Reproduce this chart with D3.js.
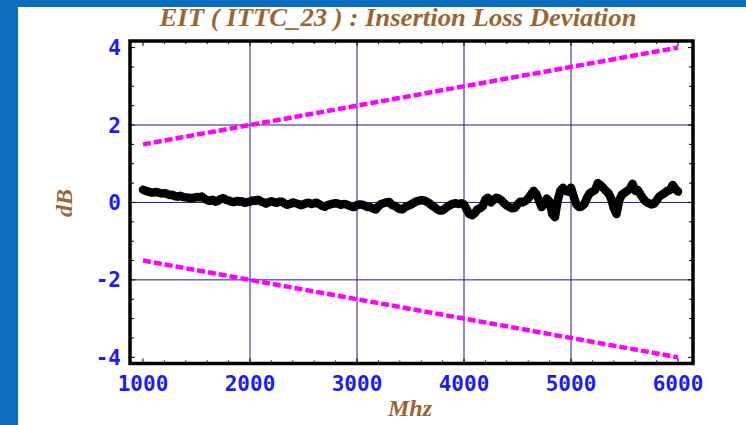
<!DOCTYPE html>
<html>
<head>
<meta charset="utf-8">
<script src="https://cdn.jsdelivr.net/npm/d3@7"></script>
<style>
  html, body { margin: 0; padding: 0; background: #0a6dbd; }
  svg { display: block; }
</style>
</head>
<body>
<svg id="chart" width="746" height="425"></svg>
<script>
// Measured insertion loss deviation (dB), every 25 MHz from 1000 to 6000
const freqStart = 1000;
const freqStep = 25;
const deviation = [
  0.33, 0.30, 0.28, 0.26, 0.26, 0.27, 0.25, 0.23,
  0.24, 0.22, 0.19, 0.20, 0.16, 0.15, 0.17, 0.14,
  0.13, 0.12, 0.11, 0.12, 0.14, 0.13, 0.15, 0.10,
  0.06, 0.04, 0.07, 0.02, 0.04, 0.09, 0.11, 0.07,
  0.05, 0.02, 0.01, 0.04, 0.02, 0.03, -0.01, 0.01,
  0.02, 0.05, 0.04, 0.07, 0.03, 0.00, -0.03, 0.01,
  0.03, 0.01, -0.01, 0.02, 0.02, -0.03, -0.06, -0.04,
  0.00, -0.02, -0.04, -0.07, -0.05, -0.02, -0.01, -0.04,
  -0.02, -0.01, -0.05, -0.09, -0.11, -0.07, -0.05, -0.03,
  -0.02, -0.03, -0.06, -0.04, -0.05, -0.08, -0.11, -0.12,
  -0.07, -0.05, -0.06, -0.09, -0.12, -0.12, -0.16, -0.18,
  -0.10, -0.04, -0.02, 0.00, 0.01, -0.06, -0.09, -0.13,
  -0.17, -0.18, -0.12, -0.09, -0.06, -0.02, 0.02, 0.04,
  0.06, 0.05, 0.02, -0.02, -0.08, -0.12, -0.18, -0.21,
  -0.20, -0.15, -0.10, -0.06, -0.03, -0.02, -0.04, -0.02,
  -0.05, -0.18, -0.30, -0.33, -0.28, -0.18, -0.15, -0.10,
  0.08, 0.12, 0.00, 0.06, 0.12, 0.10, 0.05, -0.02,
  -0.08, -0.12, -0.15, -0.14, -0.05, 0.02, 0.00, 0.04,
  0.10, 0.20, 0.30, 0.22, 0.05, -0.12, -0.05, 0.10,
  0.02, -0.30, -0.38, 0.05, 0.30, 0.38, 0.30, 0.28,
  0.38, 0.15, -0.05, -0.12, -0.10, -0.04, 0.12, 0.24,
  0.28, 0.32, 0.50, 0.45, 0.38, 0.30, 0.24, 0.10,
  -0.15, -0.30, 0.05, 0.20, 0.25, 0.30, 0.35, 0.48,
  0.30, 0.32, 0.20, 0.10, 0.02, -0.02, -0.05, -0.03,
  0.05, 0.15, 0.20, 0.24, 0.30, 0.32, 0.45, 0.35,
  0.28
];

// Limit lines (dashed magenta)
const limitFreq = [1000, 6000];
const upperLimit = [1.5, 4.0];
const lowerLimit = [-1.5, -4.0];

const xTicks = [1000, 2000, 3000, 4000, 5000, 6000];
const yTicks = [-4, -2, 0, 2, 4];
const xGrid = [2000, 3000, 4000, 5000];
const yGrid = [-2, 0, 2];

const TITLE_COLOR = '#996633';
const TICK_COLOR = '#1a1aff';
const GRID_COLOR = '#1c1c8c';
const LIMIT_COLOR = '#ff00ff';

const svg = d3.select('#chart');

// white panel inside the blue border
svg.append('rect')
  .attr('x', 18).attr('y', 7)
  .attr('width', 746 - 18).attr('height', 425 - 7)
  .attr('fill', '#fff');

const plot = { left: 130, right: 693, top: 41, bottom: 363.5 };

const x = d3.scaleLinear().domain([878.5, 6140]).range([plot.left, plot.right]);
const y = d3.scaleLinear().domain([-4.16, 4.17]).range([plot.bottom, plot.top]);

svg.append('defs').append('clipPath').attr('id', 'clip')
  .append('rect')
  .attr('x', plot.left).attr('y', plot.top)
  .attr('width', plot.right - plot.left).attr('height', plot.bottom - plot.top);

// grid
const grid = svg.append('g');
grid.selectAll('line.gx').data(xGrid).join('line')
  .attr('class', 'gx')
  .attr('x1', (d) => x(d)).attr('x2', (d) => x(d))
  .attr('y1', plot.top).attr('y2', plot.bottom)
  .attr('stroke', GRID_COLOR).attr('stroke-width', 1);
grid.selectAll('line.gy').data(yGrid).join('line')
  .attr('class', 'gy')
  .attr('x1', plot.left).attr('x2', plot.right)
  .attr('y1', (d) => y(d)).attr('y2', (d) => y(d))
  .attr('stroke', GRID_COLOR).attr('stroke-width', 1);

const marks = svg.append('g').attr('clip-path', 'url(#clip)');

const line = d3.line().x((d) => x(d[0])).y((d) => y(d[1]));

[upperLimit, lowerLimit].forEach((lim) => {
  marks.append('path')
    .datum(limitFreq.map((f, i) => [f, lim[i]]))
    .attr('d', line)
    .attr('fill', 'none')
    .attr('stroke', LIMIT_COLOR)
    .attr('stroke-width', 4.5)
    .attr('stroke-dasharray', '8,3');
});

const pts = deviation.map((v, i) => [freqStart + i * freqStep, v]);
marks.append('path')
  .datum(pts)
  .attr('d', line)
  .attr('fill', 'none')
  .attr('stroke', '#000')
  .attr('stroke-width', 8.5)
  .attr('stroke-linejoin', 'round')
  .attr('stroke-linecap', 'round');

// inward ticks on all four sides
const ticks = svg.append('g').attr('stroke', '#000').attr('stroke-width', 1);
const xMinor = d3.range(1000, 6001, 200);
const yMinor = d3.range(-4, 4.01, 0.5);
xMinor.forEach((f) => {
  const len = f % 1000 === 0 ? 5 : 3;
  ticks.append('line').attr('x1', x(f)).attr('x2', x(f))
    .attr('y1', plot.bottom).attr('y2', plot.bottom - len);
  ticks.append('line').attr('x1', x(f)).attr('x2', x(f))
    .attr('y1', plot.top).attr('y2', plot.top + len);
});
yMinor.forEach((v) => {
  const len = v % 2 === 0 ? 5 : 4;
  ticks.append('line').attr('y1', y(v)).attr('y2', y(v))
    .attr('x1', plot.left).attr('x2', plot.left + len);
  ticks.append('line').attr('y1', y(v)).attr('y2', y(v))
    .attr('x1', plot.right).attr('x2', plot.right - len);
});

// frame
svg.append('rect')
  .attr('x', plot.left).attr('y', plot.top)
  .attr('width', plot.right - plot.left).attr('height', plot.bottom - plot.top)
  .attr('fill', 'none').attr('stroke', '#000').attr('stroke-width', 3.5);

// tick labels
const labelFont = '"DejaVu Sans Mono", monospace';
svg.append('g').selectAll('text').data(xTicks).join('text')
  .attr('x', (d) => x(d)).attr('y', 391)
  .attr('text-anchor', 'middle')
  .attr('font-family', labelFont).attr('font-weight', 'bold').attr('font-size', 21)
  .attr('fill', TICK_COLOR)
  .text((d) => d);
svg.append('g').selectAll('text').data(yTicks).join('text')
  .attr('x', 121).attr('y', (d) => y(d) + 7.5)
  .attr('text-anchor', 'end')
  .attr('font-family', labelFont).attr('font-weight', 'bold').attr('font-size', 21)
  .attr('fill', TICK_COLOR)
  .text((d) => (d < 0 ? '-' + Math.abs(d) : d));

// titles
const titleFont = '"Liberation Serif", "Times New Roman", serif';
svg.append('text')
  .attr('x', 398).attr('y', 26)
  .attr('text-anchor', 'middle')
  .attr('font-family', titleFont).attr('font-style', 'italic').attr('font-weight', 'bold')
  .attr('font-size', 25).attr('fill', TITLE_COLOR)
  .attr('textLength', 477).attr('lengthAdjust', 'spacingAndGlyphs')
  .text('EIT ( ITTC_23 ) : Insertion Loss Deviation');

svg.append('text')
  .attr('x', 410).attr('y', 416)
  .attr('text-anchor', 'middle')
  .attr('font-family', titleFont).attr('font-style', 'italic').attr('font-weight', 'bold')
  .attr('font-size', 24).attr('fill', TITLE_COLOR)
  .text('Mhz');

svg.append('text')
  .attr('transform', 'translate(72,203) rotate(-90)')
  .attr('text-anchor', 'middle')
  .attr('font-family', titleFont).attr('font-style', 'italic').attr('font-weight', 'bold')
  .attr('font-size', 24).attr('fill', TITLE_COLOR)
  .text('dB');
</script>
</body>
</html>
